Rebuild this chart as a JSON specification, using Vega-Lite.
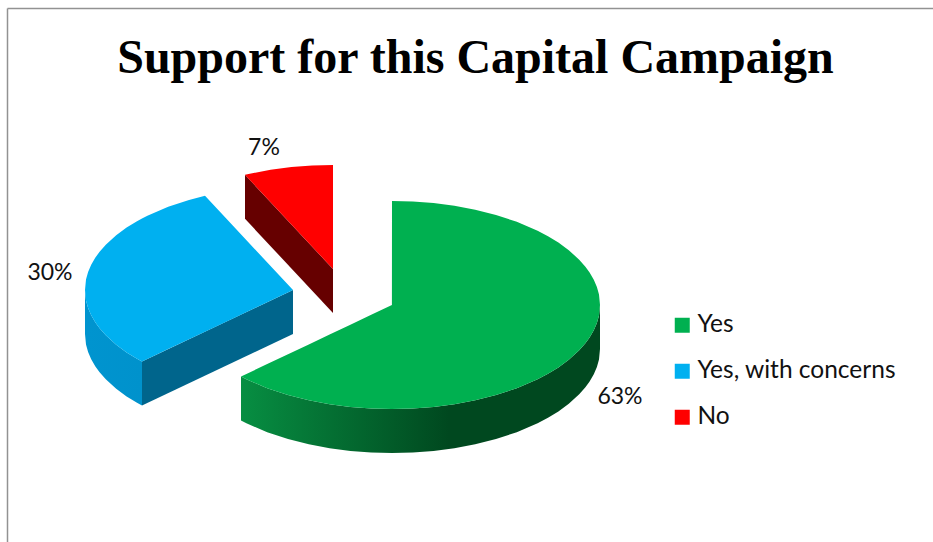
{
  "$schema": "https://vega.github.io/schema/vega-lite/v6.json",
  "width": 933,
  "height": 542,
  "padding": 0,
  "autosize": "none",
  "background": "white",
  "view": {"stroke": null},
  "config": {"font": "Lato"},
  "title": {
    "text": "Support for this Capital Campaign",
    "font": "Liberation Serif",
    "fontWeight": "bold",
    "fontSize": 48,
    "color": "#000000",
    "anchor": "middle",
    "dx": 9,
    "baseline": "alphabetic",
    "offset": -121
  },
  "datasets": {
    "outlines": [
      {"slice": "Yes", "part": "face", "x": 241, "top": 376.5, "bottom": 376.5},
      {"slice": "Yes", "part": "face", "x": 246.4, "top": 373.9, "bottom": 379.3},
      {"slice": "Yes", "part": "face", "x": 267.2, "top": 364.1, "bottom": 388.2},
      {"slice": "Yes", "part": "face", "x": 288, "top": 354.2, "bottom": 395.1},
      {"slice": "Yes", "part": "face", "x": 308.8, "top": 344.4, "bottom": 400.3},
      {"slice": "Yes", "part": "face", "x": 329.6, "top": 334.5, "bottom": 404.2},
      {"slice": "Yes", "part": "face", "x": 350.4, "top": 324.7, "bottom": 406.9},
      {"slice": "Yes", "part": "face", "x": 371.2, "top": 314.8, "bottom": 408.5},
      {"slice": "Yes", "part": "face", "x": 391.9, "top": 305, "bottom": 409},
      {"slice": "Yes", "part": "face", "x": 392, "top": 201, "bottom": 409},
      {"slice": "Yes", "part": "face", "x": 412.8, "top": 201.5, "bottom": 408.5},
      {"slice": "Yes", "part": "face", "x": 433.6, "top": 203.1, "bottom": 406.9},
      {"slice": "Yes", "part": "face", "x": 454.4, "top": 205.8, "bottom": 404.2},
      {"slice": "Yes", "part": "face", "x": 475.2, "top": 209.7, "bottom": 400.3},
      {"slice": "Yes", "part": "face", "x": 496, "top": 214.9, "bottom": 395.1},
      {"slice": "Yes", "part": "face", "x": 516.8, "top": 221.8, "bottom": 388.2},
      {"slice": "Yes", "part": "face", "x": 537.6, "top": 230.7, "bottom": 379.3},
      {"slice": "Yes", "part": "face", "x": 548, "top": 236.2, "bottom": 373.8},
      {"slice": "Yes", "part": "face", "x": 558.4, "top": 242.6, "bottom": 367.4},
      {"slice": "Yes", "part": "face", "x": 568.8, "top": 250.2, "bottom": 359.8},
      {"slice": "Yes", "part": "face", "x": 579.2, "top": 259.7, "bottom": 350.3},
      {"slice": "Yes", "part": "face", "x": 585.4, "top": 266.8, "bottom": 343.2},
      {"slice": "Yes", "part": "face", "x": 589.6, "top": 272.5, "bottom": 337.5},
      {"slice": "Yes", "part": "face", "x": 593.8, "top": 279.7, "bottom": 330.3},
      {"slice": "Yes", "part": "face", "x": 596.9, "top": 287.1, "bottom": 322.9},
      {"slice": "Yes", "part": "face", "x": 599, "top": 294.6, "bottom": 315.4},
      {"slice": "Yes", "part": "face", "x": 600, "top": 305, "bottom": 305},

      {"slice": "Yes", "part": "rim", "x": 241, "top": 376.5, "bottom": 420.5},
      {"slice": "Yes", "part": "rim", "x": 246.4, "top": 379.3, "bottom": 423.3},
      {"slice": "Yes", "part": "rim", "x": 267.2, "top": 388.2, "bottom": 432.2},
      {"slice": "Yes", "part": "rim", "x": 288, "top": 395.1, "bottom": 439.1},
      {"slice": "Yes", "part": "rim", "x": 308.8, "top": 400.3, "bottom": 444.3},
      {"slice": "Yes", "part": "rim", "x": 329.6, "top": 404.2, "bottom": 448.2},
      {"slice": "Yes", "part": "rim", "x": 350.4, "top": 406.9, "bottom": 450.9},
      {"slice": "Yes", "part": "rim", "x": 371.2, "top": 408.5, "bottom": 452.5},
      {"slice": "Yes", "part": "rim", "x": 392, "top": 409, "bottom": 453},
      {"slice": "Yes", "part": "rim", "x": 412.8, "top": 408.5, "bottom": 452.5},
      {"slice": "Yes", "part": "rim", "x": 433.6, "top": 406.9, "bottom": 450.9},
      {"slice": "Yes", "part": "rim", "x": 454.4, "top": 404.2, "bottom": 448.2},
      {"slice": "Yes", "part": "rim", "x": 475.2, "top": 400.3, "bottom": 444.3},
      {"slice": "Yes", "part": "rim", "x": 496, "top": 395.1, "bottom": 439.1},
      {"slice": "Yes", "part": "rim", "x": 516.8, "top": 388.2, "bottom": 432.2},
      {"slice": "Yes", "part": "rim", "x": 537.6, "top": 379.3, "bottom": 423.3},
      {"slice": "Yes", "part": "rim", "x": 548, "top": 373.8, "bottom": 417.8},
      {"slice": "Yes", "part": "rim", "x": 558.4, "top": 367.4, "bottom": 411.4},
      {"slice": "Yes", "part": "rim", "x": 568.8, "top": 359.8, "bottom": 403.8},
      {"slice": "Yes", "part": "rim", "x": 579.2, "top": 350.3, "bottom": 394.3},
      {"slice": "Yes", "part": "rim", "x": 585.4, "top": 343.2, "bottom": 387.2},
      {"slice": "Yes", "part": "rim", "x": 589.6, "top": 337.5, "bottom": 381.5},
      {"slice": "Yes", "part": "rim", "x": 593.8, "top": 330.3, "bottom": 374.3},
      {"slice": "Yes", "part": "rim", "x": 596.9, "top": 322.9, "bottom": 366.9},
      {"slice": "Yes", "part": "rim", "x": 599, "top": 315.4, "bottom": 359.4},
      {"slice": "Yes", "part": "rim", "x": 600, "top": 305, "bottom": 349},

      {"slice": "Yes, with concerns", "part": "face", "x": 85, "top": 290, "bottom": 290},
      {"slice": "Yes, with concerns", "part": "face", "x": 86, "top": 279.6, "bottom": 300.4},
      {"slice": "Yes, with concerns", "part": "face", "x": 88.1, "top": 272.1, "bottom": 307.9},
      {"slice": "Yes, with concerns", "part": "face", "x": 91.2, "top": 264.7, "bottom": 315.3},
      {"slice": "Yes, with concerns", "part": "face", "x": 95.4, "top": 257.5, "bottom": 322.5},
      {"slice": "Yes, with concerns", "part": "face", "x": 99.6, "top": 251.8, "bottom": 328.2},
      {"slice": "Yes, with concerns", "part": "face", "x": 105.8, "top": 244.7, "bottom": 335.3},
      {"slice": "Yes, with concerns", "part": "face", "x": 116.2, "top": 235.2, "bottom": 344.8},
      {"slice": "Yes, with concerns", "part": "face", "x": 126.6, "top": 227.6, "bottom": 352.4},
      {"slice": "Yes, with concerns", "part": "face", "x": 137, "top": 221.2, "bottom": 358.8},
      {"slice": "Yes, with concerns", "part": "face", "x": 142, "top": 218.5, "bottom": 361.5},
      {"slice": "Yes, with concerns", "part": "face", "x": 147.4, "top": 215.7, "bottom": 358.9},
      {"slice": "Yes, with concerns", "part": "face", "x": 168.2, "top": 206.8, "bottom": 349.1},
      {"slice": "Yes, with concerns", "part": "face", "x": 189, "top": 199.9, "bottom": 339.2},
      {"slice": "Yes, with concerns", "part": "face", "x": 205, "top": 195.8, "bottom": 331.7},
      {"slice": "Yes, with concerns", "part": "face", "x": 233, "top": 225.8, "bottom": 318.4},
      {"slice": "Yes, with concerns", "part": "face", "x": 293, "top": 290, "bottom": 290},

      {"slice": "Yes, with concerns", "part": "rim", "x": 85, "top": 290, "bottom": 334},
      {"slice": "Yes, with concerns", "part": "rim", "x": 86, "top": 300.4, "bottom": 344.4},
      {"slice": "Yes, with concerns", "part": "rim", "x": 88.1, "top": 307.9, "bottom": 351.9},
      {"slice": "Yes, with concerns", "part": "rim", "x": 91.2, "top": 315.3, "bottom": 359.3},
      {"slice": "Yes, with concerns", "part": "rim", "x": 95.4, "top": 322.5, "bottom": 366.5},
      {"slice": "Yes, with concerns", "part": "rim", "x": 99.6, "top": 328.2, "bottom": 372.2},
      {"slice": "Yes, with concerns", "part": "rim", "x": 105.8, "top": 335.3, "bottom": 379.3},
      {"slice": "Yes, with concerns", "part": "rim", "x": 116.2, "top": 344.8, "bottom": 388.8},
      {"slice": "Yes, with concerns", "part": "rim", "x": 126.6, "top": 352.4, "bottom": 396.4},
      {"slice": "Yes, with concerns", "part": "rim", "x": 137, "top": 358.8, "bottom": 402.8},
      {"slice": "Yes, with concerns", "part": "rim", "x": 142, "top": 361.5, "bottom": 405.5},

      {"slice": "Yes, with concerns", "part": "cut", "x": 142, "top": 361.5, "bottom": 405.5},
      {"slice": "Yes, with concerns", "part": "cut", "x": 293, "top": 290, "bottom": 334},

      {"slice": "No", "part": "face", "x": 245, "top": 174.8, "bottom": 174.8},
      {"slice": "No", "part": "face", "x": 249.8, "top": 173.7, "bottom": 179.9},
      {"slice": "No", "part": "face", "x": 270.6, "top": 169.8, "bottom": 202.2},
      {"slice": "No", "part": "face", "x": 291.4, "top": 167.1, "bottom": 224.5},
      {"slice": "No", "part": "face", "x": 312.2, "top": 165.5, "bottom": 246.7},
      {"slice": "No", "part": "face", "x": 333, "top": 165, "bottom": 269},

      {"slice": "No", "part": "cut", "x": 245, "top": 174.8, "bottom": 218.8},
      {"slice": "No", "part": "cut", "x": 333, "top": 269, "bottom": 313}
    ],
    "shares": [
      {"slice": "Yes", "share": 0.63, "labelX": 620, "labelY": 397},
      {"slice": "Yes, with concerns", "share": 0.30, "labelX": 50, "labelY": 273},
      {"slice": "No", "share": 0.07, "labelX": 264, "labelY": 148}
    ],
    "frame": [
      {"x": 7.5, "x2": 7.5, "y": 8.5, "y2": 542},
      {"x": 7.5, "x2": 933, "y": 8.5, "y2": 8.5}
    ]
  },
  "layer": [
    {
      "data": {"name": "frame"},
      "mark": {"type": "rule", "color": "#929292", "strokeWidth": 1.5},
      "encoding": {
        "x": {"field": "x", "type": "quantitative", "scale": {"domain": [0, 933], "nice": false, "zero": false}, "axis": null},
        "x2": {"field": "x2"},
        "y": {"field": "y", "type": "quantitative", "scale": {"domain": [542, 0], "nice": false, "zero": false}, "axis": null},
        "y2": {"field": "y2"}
      }
    },
    {
      "data": {"name": "outlines"},
      "transform": [{"filter": "datum.part === 'rim' && datum.slice === 'Yes'"}],
      "mark": {
        "type": "area",
        "color": {
          "gradient": "linear", "x1": 0, "x2": 1, "y1": 0, "y2": 0,
          "stops": [
            {"offset": 0, "color": "#078e42"},
            {"offset": 0.58, "color": "#00481f"},
            {"offset": 1, "color": "#00481f"}
          ]
        }
      },
      "encoding": {
        "x": {"field": "x", "type": "quantitative", "axis": null},
        "y": {"field": "top", "type": "quantitative", "axis": null},
        "y2": {"field": "bottom"}
      }
    },
    {
      "data": {"name": "outlines"},
      "transform": [{"filter": "datum.part === 'rim' && datum.slice === 'Yes, with concerns'"}],
      "mark": {
        "type": "area",
        "color": {
          "gradient": "linear", "x1": 0, "x2": 1, "y1": 0, "y2": 0,
          "stops": [
            {"offset": 0, "color": "#0094cf"},
            {"offset": 1, "color": "#0092cc"}
          ]
        }
      },
      "encoding": {
        "x": {"field": "x", "type": "quantitative", "axis": null},
        "y": {"field": "top", "type": "quantitative", "axis": null},
        "y2": {"field": "bottom"}
      }
    },
    {
      "data": {"name": "outlines"},
      "transform": [{"filter": "datum.part === 'cut' && datum.slice === 'Yes, with concerns'"}],
      "mark": {"type": "area", "color": "#00658c"},
      "encoding": {
        "x": {"field": "x", "type": "quantitative", "axis": null},
        "y": {"field": "top", "type": "quantitative", "axis": null},
        "y2": {"field": "bottom"}
      }
    },
    {
      "data": {"name": "outlines"},
      "transform": [{"filter": "datum.part === 'cut' && datum.slice === 'No'"}],
      "mark": {"type": "area", "color": "#660000"},
      "encoding": {
        "x": {"field": "x", "type": "quantitative", "axis": null},
        "y": {"field": "top", "type": "quantitative", "axis": null},
        "y2": {"field": "bottom"}
      }
    },
    {
      "data": {"name": "outlines"},
      "transform": [{"filter": "datum.part === 'face'"}],
      "mark": {"type": "area"},
      "encoding": {
        "x": {"field": "x", "type": "quantitative", "axis": null},
        "y": {"field": "top", "type": "quantitative", "axis": null},
        "y2": {"field": "bottom"},
        "color": {
          "field": "slice",
          "type": "nominal",
          "scale": {
            "domain": ["Yes", "Yes, with concerns", "No"],
            "range": ["#00b050", "#00b0f0", "#ff0000"]
          },
          "legend": {
            "orient": "none",
            "legendX": 670,
            "legendY": 313,
            "title": null,
            "symbolType": "square",
            "symbolSize": 225,
            "symbolStrokeWidth": 0,
            "labelFont": "Lato",
            "labelFontSize": 24.5,
            "labelColor": "#111111",
            "labelOffset": 3,
            "labelLimit": 400,
            "rowPadding": 21,
            "padding": 0
          }
        }
      }
    },
    {
      "data": {"name": "shares"},
      "mark": {"type": "text", "font": "Lato", "fontSize": 23, "color": "#111111", "align": "center", "baseline": "middle"},
      "encoding": {
        "x": {"field": "labelX", "type": "quantitative", "axis": null},
        "y": {"field": "labelY", "type": "quantitative", "axis": null},
        "text": {"field": "share", "type": "quantitative", "format": ".0%"}
      }
    }
  ]
}
